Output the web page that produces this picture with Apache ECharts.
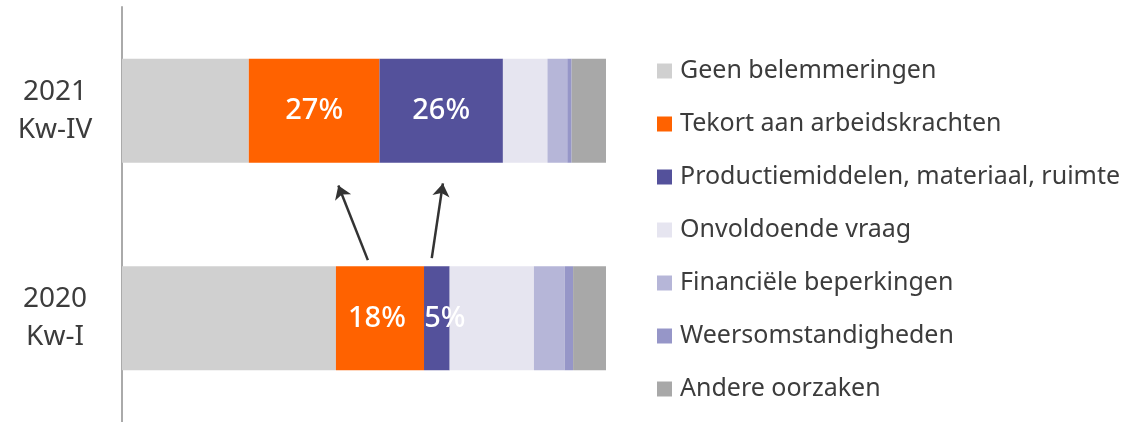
<!DOCTYPE html>
<html>
<head>
<meta charset="utf-8">
<script src="https://cdn.jsdelivr.net/npm/echarts@6/dist/echarts.min.js"></script>
<style>
    html, body { margin: 0; padding: 0; background: #fff; }
    #chart { width: 1130px; height: 422px; }
</style>
</head>
<body>
<div id="chart"></div>
<script>
// categories, bottom to top
const periods = ['2020\nKw-I', '2021\nKw-IV'];

const seriesNames = [
    'Geen belemmeringen',
    'Tekort aan arbeidskrachten',
    'Productiemiddelen, materiaal, ruimte',
    'Onvoldoende vraag',
    'Financiële beperkingen',
    'Weersomstandigheden',
    'Andere oorzaken'
];
const colors = ['#d0d0d0', '#ff6200', '#54519b', '#e6e5f0', '#b6b6d8', '#9696c8', '#a8a8a8'];

// share in % per period [2020 Kw-I, 2021 Kw-IV]
const geen = [44.2, 26.2];
const tekort = [18.2, 27.0];
const productie = [5.3, 25.5];
const vraag = [17.4, 9.2];
const financieel = [6.4, 4.1];
const weer = [1.7, 0.9];
const andere = [6.8, 7.1];
const values = [geen, tekort, productie, vraag, financieel, weer, andere];

// which series carry a value label
const labelled = [false, true, true, false, false, false, false];

// arrows: from 2020 bar to 2021 bar, [x %, y on helper axis 0..2]
const arrowFrom = [[50.8, 0.78], [64.0, 0.79]];
const arrowTo = [[44.7, 1.14], [66.3, 1.15]];

let myChart = echarts.init(document.getElementById('chart'));

// small nudge of the labels in the 2020 bar, like the original
function labelShift(seriesIdx, catIdx) {
    if (catIdx !== 0) return [0, 0];
    if (seriesIdx === 1) return [-3, 0];
    if (seriesIdx === 2) return [8, 0];
    return [0, 0];
}

let series = seriesNames.map((name, i) => ({
    name: name,
    type: 'bar',
    stack: 'totaal',
    barWidth: 104,
    itemStyle: { color: colors[i] },
    label: {
        show: labelled[i],
        position: 'inside',
        color: '#fff',
        fontSize: 29,
        fontWeight: 500,
        fontFamily: 'Noto Sans',
        formatter: p => Math.round(p.value) + '%'
    },
    emphasis: { disabled: true },
    data: values[i].map((v, j) => ({ value: v, label: { offset: labelShift(i, j) } }))
}));

series.push({
    type: 'lines',
    coordinateSystem: 'cartesian2d',
    xAxisIndex: 0,
    yAxisIndex: 1,
    symbol: ['none', 'arrow'],
    symbolSize: 13,
    lineStyle: { color: '#333', width: 2.5, opacity: 1, curveness: 0 },
    data: arrowFrom.map((f, i) => ({ coords: [f, arrowTo[i]] })),
    z: 5
});

myChart.setOption({
    animation: false,
    textStyle: { fontFamily: 'Noto Sans' },
    grid: {
        left: 122,
        right: 524,
        top: 7,
        bottom: 0
    },
    legend: {
        orient: 'vertical',
        left: 652,
        top: 51,
        icon: 'rect',
        itemWidth: 15,
        itemHeight: 15,
        itemGap: 23,
        selectedMode: false,
        data: seriesNames,
        textStyle: {
            fontSize: 25,
            lineHeight: 30,
            color: '#3c3c3c',
            fontFamily: 'Noto Sans',
            padding: [0, 0, 0, 3]
        }
    },
    xAxis: {
        type: 'value',
        min: 0,
        max: 100,
        show: false
    },
    yAxis: [
        {
            type: 'category',
            data: periods,
            axisLine: { show: true, lineStyle: { color: '#aaa', width: 2 } },
            axisTick: { show: false },
            axisLabel: {
                align: 'center',
                margin: 67,
                fontSize: 28,
                lineHeight: 38,
                color: '#3c3c3c',
                fontFamily: 'Noto Sans'
            }
        },
        {
            // helper axis for the arrows
            type: 'value',
            min: 0,
            max: 2,
            show: false
        }
    ],
    series: series
});
</script>
</body>
</html>
